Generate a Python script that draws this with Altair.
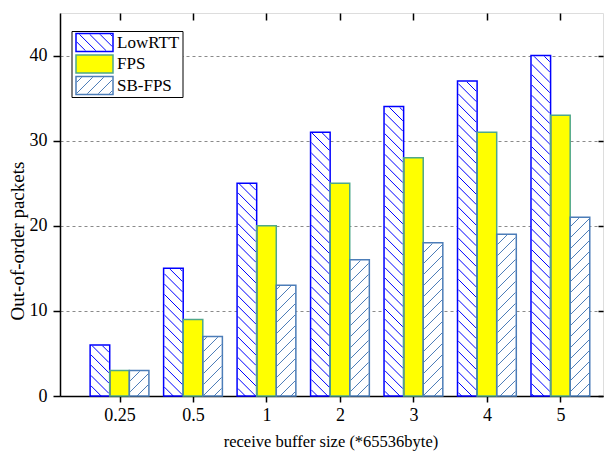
import altair as alt
import pandas as pd
import numpy as np

# ---------------- data ----------------
categories = ["0.25", "0.5", "1", "2", "3", "4", "5"]
series = ["LowRTT", "FPS", "SB-FPS"]
lowrtt = [6, 15, 25, 31, 34, 37, 40]
fps = [3, 9, 20, 25, 28, 31, 33]
sbfps = [3, 7, 13, 16, 18, 19, 21]
y_ticks = [0, 10, 20, 30, 40]
x_title = "receive buffer size (*65536byte)"
y_title = "Out-of-order packets"

# ---------------- styles ----------------
FONT = "Liberation Serif"
fills = {"LowRTT": "white", "FPS": "#FFFF00", "SB-FPS": "white"}
strokes = {"LowRTT": "#0000FF", "FPS": "#4FA88A", "SB-FPS": "#4C7DB8"}
hatch = {"LowRTT": ("back", 10.3), "SB-FPS": ("fwd", 11.0)}

W, H = 543, 383
XMIN, XMAX = -0.81, 6.58
YMIN, YMAX = 0, 45
KX = W / (XMAX - XMIN)
KY = H / (YMAX - YMIN)
GROUP = 0.8
BW = GROUP / len(series)


def hatch_segments(X0, X1, Y0, Y1, kind, s):
    """Segments of a 45-degree hatch clipped to a rectangle (pixel units, y up)."""
    segs = []
    if kind == "fwd":  # y = x + c
        cmin, cmax = Y0 - X1, Y1 - X0
        for k in range(int(np.floor(cmin / s)), int(np.ceil(cmax / s)) + 1):
            c = k * s
            lo, hi = max(X0, Y0 - c), min(X1, Y1 - c)
            if hi - lo > 0.4:
                segs.append((lo, lo + c, hi, hi + c))
    else:  # y = -x + c
        cmin, cmax = X0 + Y0, X1 + Y1
        for k in range(int(np.floor(cmin / s)), int(np.ceil(cmax / s)) + 1):
            c = k * s
            lo, hi = max(X0, c - Y1), min(X1, c - Y0)
            if hi - lo > 0.4:
                segs.append((lo, c - lo, hi, c - hi))
    return segs


def to_px(x, y):
    return (x - XMIN) * KX, (y - YMIN) * KY


def from_px(px, py):
    return XMIN + px / KX, YMIN + py / KY


# bars
vals = {"LowRTT": lowrtt, "FPS": fps, "SB-FPS": sbfps}
bar_rows, hatch_rows = [], []
for j, s in enumerate(series):
    for i, c in enumerate(categories):
        x0 = i - GROUP / 2 + j * BW
        x1 = x0 + BW
        v = vals[s][i]
        bar_rows.append(dict(x=x0, x2=x1, y=0, y2=v, fill=fills[s], stroke=strokes[s], series=s, cat=c))
        if s in hatch:
            kind, sp = hatch[s]
            X0, Y0 = to_px(x0, 0)
            X1, Y1 = to_px(x1, v)
            for (a, b, cc, d) in hatch_segments(X0 + 0.8, X1 - 0.8, Y0, Y1 - 0.8, kind, sp):
                xa, ya = from_px(a, b)
                xb, yb = from_px(cc, d)
                hatch_rows.append(dict(x=xa, y=ya, x2=xb, y2=yb, color=strokes[s]))
bars = pd.DataFrame(bar_rows)

# legend (layout in plot-relative pixels, converted through the same scales)
LB = dict(left=12, right=123, top=18.5, bottom=84.5)
SW = dict(left=16, right=53, top0=20.5, pitch=21.5, h=18)
leg_rows, leg_hatch, leg_text = [], [], []
for k, s in enumerate(series):
    top = SW["top0"] + k * SW["pitch"]
    bot = top + SW["h"]
    xa, ya = from_px(SW["left"], H - bot)
    xb, yb = from_px(SW["right"], H - top)
    leg_rows.append(dict(x=xa, x2=xb, y=ya, y2=yb, fill=fills[s], stroke=strokes[s]))
    if s in hatch:
        kind, sp = hatch[s]
        for (a, b, cc, d) in hatch_segments(SW["left"] + 0.8, SW["right"] - 0.8, H - bot + 0.8, H - top - 0.8, kind, sp):
            x1_, y1_ = from_px(a, b)
            x2_, y2_ = from_px(cc, d)
            leg_hatch.append(dict(x=x1_, y=y1_, x2=x2_, y2=y2_, color=strokes[s]))
    tx, ty = from_px(57, H - (top + bot) / 2)
    leg_text.append(dict(x=tx, y=ty, label=s))
lbx0, lby0 = from_px(LB["left"], H - LB["bottom"])
lbx1, lby1 = from_px(LB["right"], H - LB["top"])
legbox = pd.DataFrame([dict(x=lbx0, x2=lbx1, y=lby0, y2=lby1)])

xscale = alt.Scale(domain=[XMIN, XMAX], nice=False, zero=False)
yscale = alt.Scale(domain=[YMIN, YMAX], nice=False, zero=False)

label_expr = "[" + ",".join("'" + c + "'" for c in categories) + "][datum.value]"

x_axis = alt.Axis(
    orient="bottom", values=list(range(len(categories))), labelExpr=label_expr,
    grid=False, tickSize=6, tickWidth=1.5, tickColor="black", domainColor="black",
    domainWidth=1.5, labelFont=FONT, labelFontSize=18, labelColor="black", labelPadding=4,
    title=x_title, titleFont=FONT, titleFontSize=16.5, titleFontWeight="normal",
    titleColor="black", titleX=W / 2 - 1, titleY=45, titleBaseline="middle",
)
y_axis = alt.Axis(
    orient="left", values=y_ticks, grid=True, gridDash=[3, 3], gridColor="#8a8a8a",
    gridWidth=1, tickSize=7, tickWidth=1.5, tickColor="black", domainColor="black",
    domainWidth=1.5, labelFont=FONT, labelFontSize=18, labelColor="black", labelPadding=6,
    title=y_title, titleFont=FONT, titleFontSize=19, titleFontWeight="normal",
    titleColor="black", titleX=-43, titleY=H / 2 + 36, titleAngle=270,
    titleAlign="center", titleBaseline="middle",
)
x_top = alt.Axis(orient="top", values=list(range(len(categories))), labels=False, domain=False,
                 grid=False, tickSize=7, tickWidth=1.5, tickColor="black", offset=-7, title=None)
y_right = alt.Axis(orient="right", values=y_ticks, labels=False, domain=False, grid=False,
                   tickSize=5, tickWidth=1.5, tickColor="black", offset=-5, title=None)


def rect_enc(axx=None, axy=None):
    return dict(
        x=alt.X("x:Q", scale=xscale, axis=axx),
        x2="x2:Q",
        y=alt.Y("y:Q", scale=yscale, axis=axy),
        y2="y2:Q",
    )


bar_fill = alt.Chart(bars).mark_rect(strokeWidth=0).encode(
    fill=alt.Fill("fill:N", scale=None), **rect_enc(x_axis, y_axis)
)
bar_hatch = alt.Chart(pd.DataFrame(hatch_rows)).mark_rule(strokeWidth=1).encode(
    color=alt.Color("color:N", scale=None), **rect_enc()
)
bar_line = alt.Chart(bars).mark_rect(fillOpacity=0, strokeWidth=1.5).encode(
    stroke=alt.Stroke("stroke:N", scale=None), **rect_enc()
)
frame_axes = alt.Chart(bars).mark_rect(opacity=0).encode(**rect_enc(x_top, y_right))

leg_box = alt.Chart(legbox).mark_rect(fill="white", stroke="black", strokeWidth=1).encode(**rect_enc())
leg_fill = alt.Chart(pd.DataFrame(leg_rows)).mark_rect(strokeWidth=0).encode(
    fill=alt.Fill("fill:N", scale=None), **rect_enc()
)
leg_h = alt.Chart(pd.DataFrame(leg_hatch)).mark_rule(strokeWidth=1).encode(
    color=alt.Color("color:N", scale=None), **rect_enc()
)
leg_line = alt.Chart(pd.DataFrame(leg_rows)).mark_rect(fillOpacity=0, strokeWidth=1.5).encode(
    stroke=alt.Stroke("stroke:N", scale=None), **rect_enc()
)
leg_txt = alt.Chart(pd.DataFrame(leg_text)).mark_text(
    align="left", baseline="middle", font=FONT, fontSize=17, color="black"
).encode(
    x=alt.X("x:Q", scale=xscale, axis=None),
    y=alt.Y("y:Q", scale=yscale, axis=None),
    text="label:N",
)

chart = alt.layer(
    bar_fill, bar_hatch, bar_line, frame_axes, leg_box, leg_fill, leg_h, leg_line, leg_txt
).resolve_axis(x="independent", y="independent").properties(
    width=W, height=H,
    autosize=alt.AutoSizeParams(type="none"),
    padding={"left": 60, "top": 13, "right": 2, "bottom": 58},
).configure_view(stroke="black", strokeWidth=1.5).configure(background="white")

chart.save("out.html", embed_options={"renderer": "svg", "actions": False})
